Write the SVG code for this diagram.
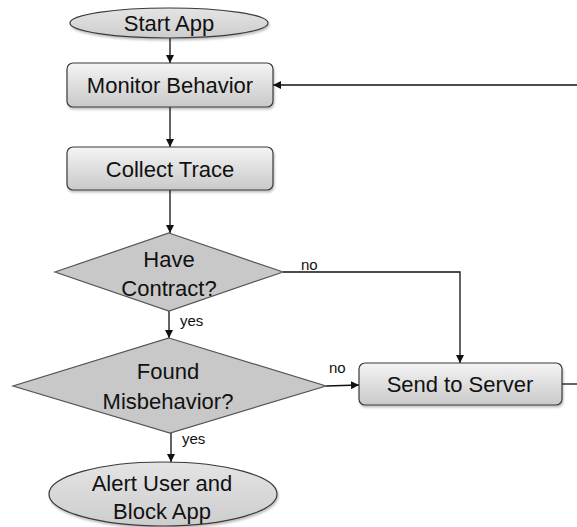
<svg xmlns="http://www.w3.org/2000/svg" width="577" height="527" viewBox="0 0 577 527">
<defs>
<linearGradient id="gBox" x1="0" y1="0" x2="0" y2="1">
<stop offset="0" stop-color="#f4f4f4"/>
<stop offset="1" stop-color="#c9c9c9"/>
</linearGradient>
<linearGradient id="gEll" x1="0" y1="0" x2="0" y2="1">
<stop offset="0" stop-color="#e4e4e4"/>
<stop offset="1" stop-color="#cdcdcd"/>
</linearGradient>
<marker id="arr" viewBox="0 0 10 10" refX="10" refY="5" markerWidth="8" markerHeight="8" markerUnits="userSpaceOnUse" orient="auto">
<path d="M0,0 L10,5 L0,10 z" fill="#111"/>
</marker>
<filter id="sh" x="-10%" y="-10%" width="130%" height="140%">
<feDropShadow dx="1" dy="2" stdDeviation="1.2" flood-color="#000" flood-opacity="0.25"/>
</filter>
</defs>
<style>
.box{fill:url(#gBox);stroke:#3a3a3a;stroke-width:1.2;filter:url(#sh)}
.ell{fill:url(#gEll);stroke:#3a3a3a;stroke-width:1.2;filter:url(#sh)}
.dia{fill:#c8c8c8;stroke:#555;stroke-width:1.2}
.t{font-family:"Liberation Sans",Arial,sans-serif;font-size:22px;fill:#111;text-anchor:middle}
.s{font-family:"Liberation Sans",Arial,sans-serif;font-size:15px;fill:#111}
.c{fill:none;stroke:#111;stroke-width:1.3}
</style>
<rect width="577" height="527" fill="#fff"/>
<g id="connectors">
<path class="c" d="M170,38 V63" marker-end="url(#arr)"/>
<path class="c" d="M577,85 H273" marker-end="url(#arr)"/>
<path class="c" d="M170,107 V147" marker-end="url(#arr)"/>
<path class="c" d="M170,190 V233" marker-end="url(#arr)"/>
<path class="c" d="M283,272 H460 V363" marker-end="url(#arr)"/>
<path class="c" d="M169,311 V338" marker-end="url(#arr)"/>
<path class="c" d="M326,386 L359,385" marker-end="url(#arr)"/>
<path class="c" d="M562,384 H577"/>
<path class="c" d="M171,433 V462" marker-end="url(#arr)"/>
<text class="s" x="301" y="270">no</text>
<text class="s" x="180" y="326">yes</text>
<text class="s" x="329" y="373">no</text>
<text class="s" x="182" y="444">yes</text>
</g>
<g id="start">
<ellipse class="ell" cx="169" cy="23" rx="99" ry="15"/>
<text class="t" x="169" y="31">Start App</text>
</g>
<g id="monitor">
<rect class="box" x="67" y="63" width="206" height="44" rx="6"/>
<text class="t" x="170" y="93">Monitor Behavior</text>
</g>
<g id="collect">
<rect class="box" x="67" y="147" width="206" height="43" rx="6"/>
<text class="t" x="170" y="177">Collect Trace</text>
</g>
<g id="contract">
<polygon class="dia" points="169,233 283,272 169,311 55,272"/>
<text class="t" x="169" y="267">Have</text>
<text class="t" x="169" y="296">Contract?</text>
</g>
<g id="misbehavior">
<polygon class="dia" points="169,338 326,386 170,433 13,386"/>
<text class="t" x="168" y="379">Found</text>
<text class="t" x="168" y="409">Misbehavior?</text>
</g>
<g id="server">
<rect class="box" x="359" y="363" width="203" height="42" rx="6"/>
<text class="t" x="460" y="392">Send to Server</text>
</g>
<g id="alert">
<ellipse class="ell" cx="163" cy="494" rx="114" ry="32"/>
<text class="t" x="162" y="491">Alert User and</text>
<text class="t" x="162" y="519">Block App</text>
</g>
</svg>
